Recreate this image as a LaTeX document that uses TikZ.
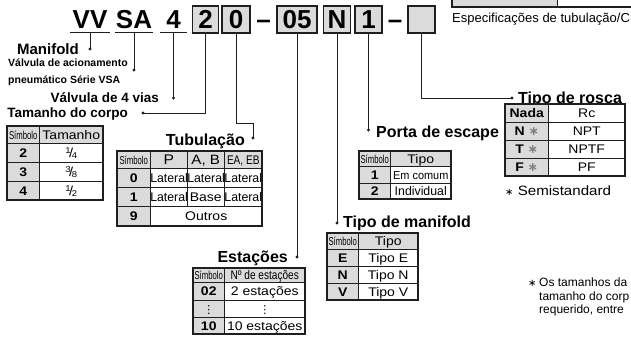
\documentclass[tikz,border=0pt]{standalone}
\usepackage{fontspec}
\setmainfont{Liberation Sans}
\newfontfamily\wf[FakeStretch=1.12]{Liberation Sans}
\newfontfamily\dvs{DejaVu Sans}
\definecolor{cellgray}{gray}{0.86}
\definecolor{ink}{gray}{0.12}
\newcommand\fs[1]{\fontsize{#1}{#1}\selectfont}
\newcommand\cnd[2]{\scalebox{#1}[1]{#2}}
\newcommand\symb{\cnd{0.6}{\fs{11.5}Símbolo}}
\newcommand\frc[2]{\raisebox{0.55ex}{\fs{8.5}#1}\kern-0.12em{\fs{13}/}\kern-0.12em\raisebox{-0.2ex}{\fs{8.5}#2}}
\newcommand\astc{{\dvs ∗}}
\newcommand\vd{{\dvs\fs{11}⋮}}
\newcommand\lat{\cnd{0.88}{Lateral}}
\newcommand\tgc[6]{\node[gcell,minimum width=#4,minimum height=#5] (#1) at (#2,#3) {#6};}
\newcommand\twc[6]{\node[wcell,minimum width=#4,minimum height=#5] (#1) at (#2,#3) {#6};}
\begin{document}
\begin{tikzpicture}[x=1pt,y=-1pt,
  tcell/.style={draw=ink,line width=0.5pt,inner sep=0pt,anchor=north west,font=\wf\fs{12.5},text height=9pt,text depth=0pt},
  gcell/.style={tcell,fill=cellgray},
  wcell/.style={tcell,fill=white},
  tframe/.style={draw=ink,line width=1.1pt},
  codebox/.style={draw=ink,line width=1.3pt,fill=cellgray,inner sep=0pt,minimum height=27pt,minimum width=27pt,font=\fs{26}\bfseries,text height=18.7pt,text depth=0pt},
  codetext/.style={inner sep=0pt,minimum height=26pt,font=\fs{26}\bfseries,text height=18.7pt,text depth=0pt},
  uline/.style={draw=ink,line width=0.9pt},
  conn/.style={draw=ink,line width=0.9pt},
  dot/.style={fill=ink},
  title/.style={inner sep=0pt,font=\fs{16}\bfseries},
  lbl/.style={inner sep=0pt,font=\fs{13.5}\bfseries},
  note/.style={inner sep=0pt,anchor=base west,font=\fs{12}},
]
\useasboundingbox (0,0) rectangle (631,340);
\clip (0,0) rectangle (631,340);

% ---- code row
\node[codetext,minimum width=40pt] (cVV) at (90,19) {VV};
\node[codetext,minimum width=38pt] (cSA) at (134,19) {SA};
\node[codetext,minimum width=27pt] (c4) at (173.5,19) {4};
\draw[uline] (cVV.south west) -- (cVV.south east);
\draw[uline] (cSA.south west) -- (cSA.south east);
\draw[uline] (c4.south west) -- (c4.south east);
\node[codebox,minimum width=26pt] (c2) at (205.5,19.5) {2};
\node[codebox,minimum width=28pt] (c0) at (236,19.5) {0};
\node[codetext] (dash1) at (263.5,19.5) {–};
\node[codebox,minimum width=40pt] (c05) at (297,19.5) {05};
\node[codebox] (cN) at (337,19.5) {N};
\node[codebox] (c1) at (368.5,19.5) {1};
\node[codetext] (dash2) at (395,19.5) {–};
\node[codebox] (cE) at (421.5,19.5) {};

% ---- labels and connectors
\coordinate (dMan) at (90,49);
\draw[conn] (cVV.south) -- (dMan);
\fill[dot] (dMan) circle (1.7);
\node[inner sep=0pt,font=\fs{15}\bfseries,anchor=base east] (tMan) at (79,54) {Manifold};

\coordinate (dSA) at (134,70);
\draw[conn] (cSA.south) -- (dSA);
\fill[dot] (dSA) circle (1.7);
\node[inner sep=0pt,font=\fs{10.5}\bfseries,anchor=base west] (tSA1) at (8,66.7) {Válvula de acionamento};
\node[inner sep=0pt,font=\fs{10.5}\bfseries,anchor=base west] (tSA2) at (8,83.3) {pneumático Série VSA};

\coordinate (d4) at (173.5,98);
\draw[conn] (c4.south) -- (d4);
\fill[dot] (d4) circle (1.7);
\node[lbl,anchor=base east] (t4) at (159,102) {Válvula de 4 vias};

\coordinate (d2) at (143,113);
\draw[conn] (c2.south) |- (d2);
\fill[dot] (d2) circle (1.7);
\node[lbl,anchor=base east] (t2) at (128,117.5) {Tamanho do corpo};

\coordinate (b0) at (236,123);
\coordinate (d0) at (253,138);
\draw[conn] (c0.south) -- (b0) -| (d0);
\fill[dot] (d0) circle (1.7);
\node[title,anchor=base east] (t0) at (245,145) {Tubulação};

\coordinate (d05) at (297,257);
\draw[conn] (c05.south) -- (d05);
\fill[dot] (d05) circle (1.7);
\node[title,anchor=base east] (t05) at (288,262) {Estações};

\coordinate (dN) at (337,223);
\draw[conn] (cN.south) -- (dN);
\fill[dot] (dN) circle (1.7);
\node[title,anchor=base west] (tN) at (343,227) {Tipo de manifold};

\coordinate (d1) at (368.5,130);
\draw[conn] (c1.south) -- (d1);
\fill[dot] (d1) circle (1.7);
\node[title,anchor=base west] (t1) at (376,137) {Porta de escape};

\coordinate (bE) at (421.5,98);
\coordinate (dE) at (512,98);
\draw[conn] (cE.south) -- (bE) -- (dE);
\fill[dot] (dE) circle (1.7);
\node[title,anchor=base west] (tE) at (518,103.5) {Tipo de rosca};

% ---- table: Tamanho do corpo
\tgc{a0}{7}{126}{32}{17}{\symb}
\tgc{a1}{39}{126}{64}{17}{Tamanho}
\tgc{a2}{7}{143}{32}{19}{\bfseries 2} \twc{a3}{39}{143}{64}{19}{\frc14}
\tgc{a4}{7}{162}{32}{19}{\bfseries 3} \twc{a5}{39}{162}{64}{19}{\frc38}
\tgc{a6}{7}{181}{32}{19}{\bfseries 4} \twc{a7}{39}{181}{64}{19}{\frc12}
\draw[tframe] (7,126) rectangle (103,200);

% ---- table: Tubulação
\tgc{b0}{117}{151}{33}{17}{\symb}
\tgc{b1}{150}{151}{37}{17}{\fs{14}P}
\tgc{b2}{187}{151}{37}{17}{\fs{13.5}A, B}
\tgc{b3}{224}{151}{38}{17}{\cnd{0.72}{EA, EB}}
\tgc{b4}{117}{168}{33}{19}{\bfseries 0} \twc{b5}{150}{168}{37}{19}{\lat} \twc{b6}{187}{168}{37}{19}{\lat} \twc{b7}{224}{168}{38}{19}{\lat}
\tgc{b8}{117}{187}{33}{19}{\bfseries 1} \twc{b9}{150}{187}{37}{19}{\lat} \twc{b10}{187}{187}{37}{19}{Base} \twc{b11}{224}{187}{38}{19}{\lat}
\tgc{b12}{117}{206}{33}{20}{\bfseries 9} \twc{b13}{150}{206}{112}{20}{Outros}
\draw[tframe] (117,151) rectangle (262,226);

% ---- table: Estações
\tgc{c0t}{193}{268}{31}{14}{\symb}
\tgc{c1t}{224}{268}{81}{14}{\cnd{0.72}{Nº de estações}}
\tgc{c2t}{193}{282}{31}{18}{\bfseries 02} \twc{c3t}{224}{282}{81}{18}{2 estações}
\tgc{c4t}{193}{300}{31}{17}{\vd} \twc{c5t}{224}{300}{81}{17}{\vd}
\tgc{c6t}{193}{317}{31}{17}{\bfseries 10} \twc{c7t}{224}{317}{81}{17}{10 estações}
\draw[tframe] (193,268) rectangle (305,334);

% ---- table: Tipo de manifold
\tgc{d0t}{327}{233}{31}{16}{\symb} \tgc{d1t}{358}{233}{60}{16}{Tipo}
\tgc{d2t}{327}{249}{31}{17}{\bfseries E} \twc{d3t}{358}{249}{60}{17}{Tipo E}
\tgc{d4t}{327}{266}{31}{17}{\bfseries N} \twc{d5t}{358}{266}{60}{17}{Tipo N}
\tgc{d6t}{327}{283}{31}{17}{\bfseries V} \twc{d7t}{358}{283}{60}{17}{Tipo V}
\draw[tframe] (327,233) rectangle (418,300);

% ---- table: Porta de escape
\tgc{e0t}{359}{151}{31}{15}{\symb} \tgc{e1t}{390}{151}{61}{15}{Tipo}
\tgc{e2t}{359}{166}{31}{17}{\bfseries 1} \twc{e3t}{390}{166}{61}{17}{\cnd{0.85}{\fs{11.5}Em comum}}
\tgc{e4t}{359}{183}{31}{16}{\bfseries 2} \twc{e5t}{390}{183}{61}{16}{\cnd{0.88}{Individual}}
\draw[tframe] (359,151) rectangle (451,199);

% ---- table: Tipo de rosca
\tgc{r1a}{505}{104}{43}{18}{\bfseries Nada} \twc{r1b}{548}{104}{77}{18}{Rc}
\tgc{r2a}{505}{122}{43}{18}{\bfseries N \textcolor{gray}{\astc}} \twc{r2b}{548}{122}{77}{18}{NPT}
\tgc{r3a}{505}{140}{43}{18}{\bfseries T \textcolor{gray}{\astc}} \twc{r3b}{548}{140}{77}{18}{NPTF}
\tgc{r4a}{505}{158}{43}{18}{\bfseries F \textcolor{gray}{\astc}} \twc{r4b}{548}{158}{77}{18}{PF}
\draw[tframe] (505,104) rectangle (625,176);
\node[note,font=\wf\fs{13.5}] (semi) at (505,195) {{\fs{10}\astc} Semistandard};

% ---- top-right partial table and caption
\tgc{f0}{452}{-10}{105}{17}{} \twc{f1}{557}{-10}{90}{17}{}
\draw[tframe] (452,-10) rectangle (660,7);
\node[note,font=\fs{13}] (spec) at (452,22.5) {Especificações de tubulação/C};

% ---- bottom-right note
\node[note] (nast) at (528,286) {{\fs{10}\astc}};
\node[note] (n1) at (539,286) {Os tamanhos da};
\node[note] (n2) at (539,300) {tamanho do corp};
\node[note] (n3) at (539,313) {requerido, entre};
\end{tikzpicture}
\end{document}
